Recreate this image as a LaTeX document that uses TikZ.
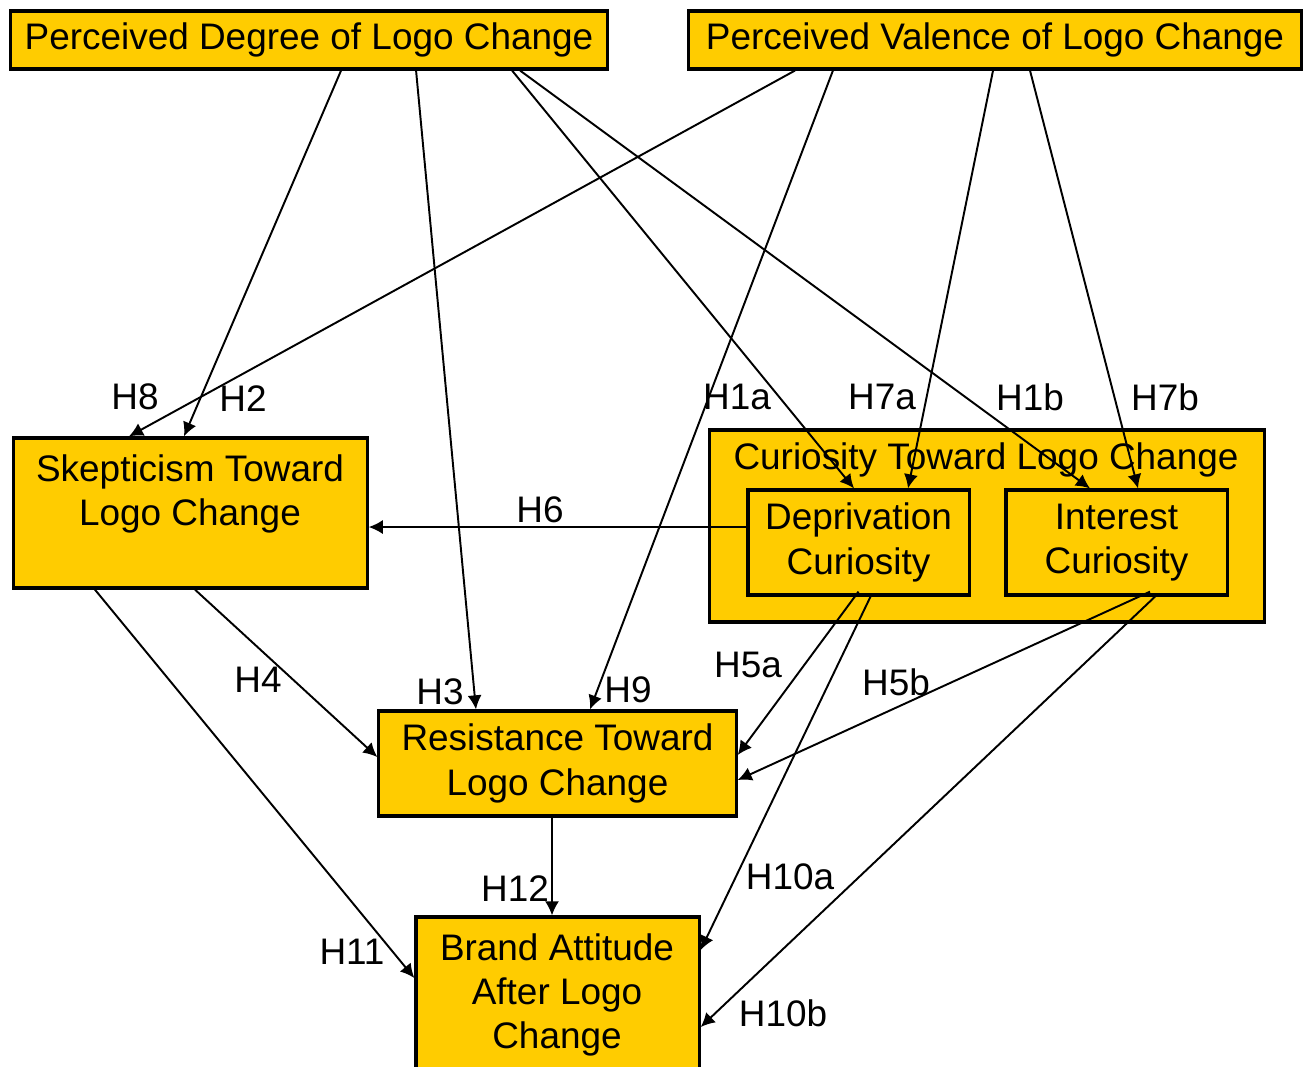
\documentclass[tikz,border=0pt]{standalone}
\usepackage{fontspec}
\setmainfont{Liberation Sans}
\usetikzlibrary{arrows.meta}
\definecolor{gold}{HTML}{FFCC00}
\begin{document}
\begin{tikzpicture}[x=0.01cm,y=-0.01cm,
  font=\fontsize{10.5}{12.6}\selectfont,
  box/.style={draw=black,line width=0.9pt,fill=gold,inner sep=0pt,anchor=center,align=center},
  txt/.style={align=center,inner sep=0pt},
  hyp/.style={inner sep=0pt},
  arr/.style={line width=0.55pt,-{Latex[length=4pt,width=4pt]}}]
\useasboundingbox (0,0) rectangle (1307,1066);

% boxes
\node[box,minimum width=5.96cm,minimum height=0.58cm] (pd) at (309,40) {Perceived Degree of Logo Change};
\node[box,minimum width=6.12cm,minimum height=0.58cm] (pv) at (995,40) {Perceived Valence of Logo Change};
\node[box,minimum width=3.53cm,minimum height=1.50cm] (skep) at (190.5,513) {};
\node[txt] (skeptxt) at (190,494) {Skepticism Toward\\Logo Change};
\node[box,minimum width=5.54cm,minimum height=1.92cm] (cur) at (987,526) {};
\node[txt] (curtxt) at (986,460) {Curiosity Toward Logo Change};
\node[box,minimum width=2.21cm,minimum height=1.05cm] (dep) at (858.5,542.5) {Deprivation\\Curiosity};
\node[box,minimum width=2.21cm,minimum height=1.05cm] (int) at (1116.5,542.5) {Interest\\Curiosity};
\node[box,minimum width=3.57cm,minimum height=1.05cm] (res) at (557.5,763.5) {Resistance Toward\\Logo Change};
\node[box,minimum width=2.83cm,minimum height=1.58cm] (brand) at (557.5,996) {};
\node[txt] (brandtxt) at (557,995) {Brand Attitude\\After Logo\\Change};

% hypotheses paths
\draw[arr] ([xshift=0.32cm]pd.south) -- ([xshift=-0.065cm]skep.north);
\draw[arr] ([xshift=-2cm]pv.south) -- ([xshift=-0.615cm]skep.north);
\draw[arr] ([xshift=1.07cm]pd.south) -- ([xshift=-0.815cm]res.north);
\draw[arr] ([xshift=2.03cm]pd.south) -- ([xshift=-0.045cm]dep.north);
\draw[arr] ([xshift=2.11cm]pd.south) -- ([xshift=-0.265cm]int.north);
\draw[arr] ([xshift=-1.62cm]pv.south) -- ([xshift=0.325cm]res.north);
\draw[arr] ([xshift=-0.02cm]pv.south) -- ([xshift=0.495cm]dep.north);
\draw[arr] ([xshift=0.35cm]pv.south) -- ([xshift=0.215cm]int.north);
\draw[arr] ([yshift=0.155cm]dep.west) -- ([yshift=-0.14cm]skep.east);
\draw[arr] ([xshift=0.045cm]skep.south) -- ([yshift=0.065cm]res.west);
\draw[arr] ([xshift=-0.955cm]skep.south) -- ([yshift=0.18cm]brand.west);
\draw[arr] ([yshift=0.05cm]dep.south) -- ([yshift=0.085cm]res.east);
\draw[arr] ([xshift=0.335cm,yshift=0.05cm]int.south) -- ([yshift=-0.165cm]res.east);
\draw[arr] ([xshift=0.12cm]dep.south) -- ([yshift=0.46cm]brand.east);
\draw[arr] ([xshift=0.385cm]int.south) -- ([yshift=-0.31cm]brand.east);
\draw[arr] ([xshift=-0.055cm]res.south) -- ([xshift=-0.055cm]brand.north);

% hypothesis labels
\node[hyp] (h8) at (135,397) {H8};
\node[hyp] (h2) at (243,399) {H2};
\node[hyp] (h1a) at (737,397) {H1a};
\node[hyp] (h7a) at (882,397) {H7a};
\node[hyp] (h1b) at (1030,397) {H1b};
\node[hyp] (h7b) at (1165,397) {H7b};
\node[hyp] (h6) at (540,510) {H6};
\node[hyp] (h4) at (258,680) {H4};
\node[hyp] (h3) at (440,692) {H3};
\node[hyp] (h9) at (628,690) {H9};
\node[hyp] (h5a) at (748,665) {H5a};
\node[hyp] (h5b) at (896,682) {H5b};
\node[hyp] (h12) at (515,889) {H12};
\node[hyp] (h11) at (352,952) {H11};
\node[hyp] (h10a) at (790,877) {H10a};
\node[hyp] (h10b) at (783,1013) {H10b};
\end{tikzpicture}
\end{document}
